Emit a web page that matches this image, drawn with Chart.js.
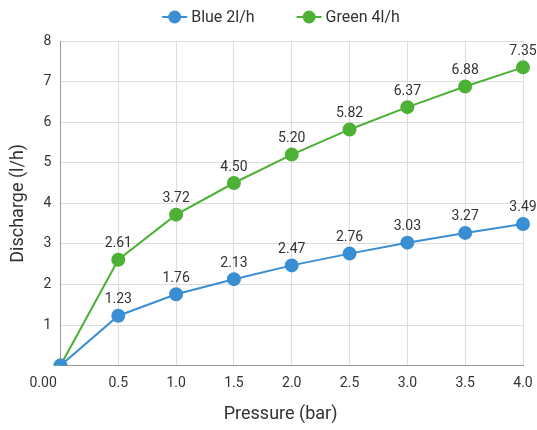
<!DOCTYPE html>
<html>
<head>
<meta charset="utf-8">
<script src="https://cdn.jsdelivr.net/npm/chart.js@4/dist/chart.umd.min.js"></script>
<style>
    html, body { margin: 0; padding: 0; background: #fff; }
    #wrap { width: 537px; height: 430px; }
</style>
</head>
<body>
<div id="wrap"><canvas id="chart" width="537" height="430"></canvas></div>
<script>
const pressureLabels = ['0.00', '0.5', '1.0', '1.5', '2.0', '2.5', '3.0', '3.5', '4.0'];
const blueValues = [0, 1.23, 1.76, 2.13, 2.47, 2.76, 3.03, 3.27, 3.49];
const greenValues = [0, 2.61, 3.72, 4.50, 5.20, 5.82, 6.37, 6.88, 7.35];

const BLUE = '#3a8ed3';
const GREEN = '#4cb135';

// draws the value above each point (skips the origin point)
const pointLabels = {
    id: 'pointLabels',
    afterDatasetsDraw(chart) {
        const ctx = chart.ctx;
        ctx.save();
        ctx.font = '14px Roboto';
        ctx.fillStyle = '#333';
        ctx.textAlign = 'center';
        ctx.textBaseline = 'middle';
        chart.data.datasets.forEach((ds, i) => {
            const meta = chart.getDatasetMeta(i);
            meta.data.forEach((pt, j) => {
                if (j === 0) return;
                ctx.fillText(ds.data[j].toFixed(2), pt.x, pt.y - 16);
            });
        });
        ctx.restore();
    }
};

// legend: short line with a dot, then the label
const lineLegend = {
    id: 'lineLegend',
    afterDraw(chart) {
        const ctx = chart.ctx;
        ctx.save();
        ctx.font = '16px Roboto';
        ctx.textBaseline = 'middle';
        const symW = 25, gap = 4, itemGap = 42, y = 17;
        const items = chart.data.datasets.map(ds => ({
            ds: ds,
            w: symW + gap + ctx.measureText(ds.label).width
        }));
        const total = items.reduce((s, it) => s + it.w, 0) + itemGap * (items.length - 1);
        let x = 281 - total / 2;
        items.forEach(it => {
            ctx.strokeStyle = it.ds.borderColor;
            ctx.lineWidth = 2;
            ctx.beginPath();
            ctx.moveTo(x, y);
            ctx.lineTo(x + symW, y);
            ctx.stroke();
            ctx.fillStyle = it.ds.borderColor;
            ctx.beginPath();
            ctx.arc(x + symW / 2, y, 6.5, 0, Math.PI * 2);
            ctx.fill();
            ctx.fillStyle = '#333';
            ctx.textAlign = 'left';
            ctx.fillText(it.ds.label, x + symW + gap, y + 1);
            x += it.w + itemGap;
        });
        ctx.restore();
    }
};

const ctx = document.getElementById('chart').getContext('2d');
new Chart(ctx, {
    type: 'line',
    data: {
        labels: pressureLabels,
        datasets: [
            {
                label: 'Blue 2l/h',
                data: blueValues,
                borderColor: BLUE,
                backgroundColor: BLUE,
                borderWidth: 2,
                pointRadius: 6,
                pointHoverRadius: 6,
                tension: 0
            },
            {
                label: 'Green 4l/h',
                data: greenValues,
                borderColor: GREEN,
                backgroundColor: GREEN,
                borderWidth: 2,
                pointRadius: 6,
                pointHoverRadius: 6,
                tension: 0
            }
        ]
    },
    options: {
        responsive: false,
        animation: false,
        layout: { padding: { left: 8, right: 14, top: 41, bottom: 5 } },
        plugins: {
            legend: { display: false },
            tooltip: { enabled: false }
        },
        scales: {
            x: {
                offset: false,
                afterFit(scale) {
                    scale.paddingRight = 0;
                    scale.paddingLeft = 0;
                },
                grid: { color: '#dddddd', drawTicks: false },
                border: { color: '#999999' },
                ticks: {
                    autoSkip: false,
                    font: { family: 'Roboto', size: 14 },
                    color: '#333',
                    padding: 9,
                    maxRotation: 0,
                    callback(value, index) {
                        const t = pressureLabels[index];
                        return index === 0 ? t + '          ' : t;
                    }
                },
                title: {
                    display: true,
                    text: 'Pressure (bar)     ',
                    font: { family: 'Roboto', size: 18 },
                    color: '#333',
                    padding: { top: 3, bottom: 0 }
                }
            },
            y: {
                min: 0,
                max: 8,
                grid: { color: '#dddddd', drawTicks: false },
                border: { color: '#999999' },
                ticks: {
                    stepSize: 1,
                    font: { family: 'Roboto', size: 14 },
                    color: '#333',
                    padding: 9,
                    callback(value) { return value === 0 ? '' : value; }
                },
                title: {
                    display: true,
                    text: 'Discharge (l/h)',
                    font: { family: 'Roboto', size: 18 },
                    color: '#333',
                    padding: { top: 0, bottom: 5 }
                }
            }
        }
    },
    plugins: [pointLabels, lineLegend]
});
</script>
</body>
</html>
